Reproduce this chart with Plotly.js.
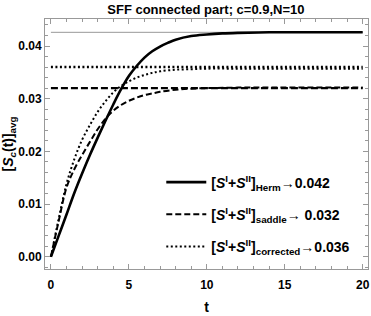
<!DOCTYPE html>
<html><head><meta charset="utf-8">
<script src="https://cdn.plot.ly/plotly-3.0.1.min.js"></script>
<style>body{margin:0;padding:0;background:#fff}#g{width:371px;height:316px}</style>
</head><body><div id="g"></div>
<script>
var tHerm = [0,0.5,1,1.5,2,2.5,3,3.5,4,4.5,5,5.5,6,6.5,7,7.5,8,9,10,11,12,14,16,18,20];
var sHerm = [0,0.0040,0.0080,0.0121,0.0158,0.0193,0.0226,0.0258,0.0289,0.0318,0.0343,0.0362,0.0378,0.0390,0.0399,0.0406,0.0412,0.0419,0.0422,0.0424,0.0425,0.0426,0.0426,0.0426,0.0426];
var tSad = [0,0.5,1,1.5,2,2.5,3,3.5,4,4.5,5,5.5,6,6.5,7,8,9,10,12,14,16,18,20];
var sSad = [0,0.0068,0.0131,0.0166,0.0193,0.0218,0.0242,0.0262,0.0277,0.0288,0.0296,0.0302,0.0307,0.0310,0.0313,0.0317,0.0319,0.0320,0.0321,0.0321,0.0321,0.0321,0.0321];
var tCor = [0,0.5,1,1.5,2,2.5,3,3.5,4,4.5,5,5.5,6,6.5,7,8,9,10,12,14,16,18,20];
var sCor = [0,0.0072,0.0138,0.0185,0.0222,0.0250,0.0275,0.0295,0.0312,0.0324,0.0333,0.0340,0.0345,0.0349,0.0352,0.0355,0.0356,0.0357,0.0357,0.0357,0.0357,0.0357,0.0357];
var tLim = [0,20];
var limHerm = 0.0426, limSad = 0.032, limCor = 0.036;
var names = ['[<i>S</i><sup>I</sup>+<i>S</i><sup>II</sup>]<sub>Herm</sub>→0.042',
             '[<i>S</i><sup>I</sup>+<i>S</i><sup>II</sup>]<sub>saddle</sub>→ 0.032',
             '[<i>S</i><sup>I</sup>+<i>S</i><sup>II</sup>]<sub>corrected</sub>→0.036'];
var F = 'Liberation Sans Narrow, Arial Narrow, Liberation Sans, Arial, sans-serif';

var traces = [
 {x:tLim, y:[limHerm,limHerm], mode:'lines', line:{color:'#999',width:1}, showlegend:false, hoverinfo:'skip'},
 {x:tLim, y:[limCor,limCor], mode:'lines', line:{color:'#000',width:2.5,dash:'2px,2.5px'}, showlegend:false, hoverinfo:'skip'},
 {x:tLim, y:[limSad,limSad], mode:'lines', line:{color:'#000',width:2.2,dash:'7px,3px'}, showlegend:false, hoverinfo:'skip'},
 {x:tHerm, y:sHerm, mode:'lines', name:names[0], legendgroup:'a', line:{color:'#000',width:2.6,shape:'spline'}},
 {x:tSad, y:sSad, mode:'lines', name:names[1], legendgroup:'b', line:{color:'#000',width:2,dash:'6px,3px',shape:'spline'}},
 {x:tCor, y:sCor, mode:'lines', name:names[2], legendgroup:'c', line:{color:'#000',width:2,dash:'2px,2.5px',shape:'spline'}}
];
var ax = {showline:true, mirror:'allticks', linecolor:'#999', linewidth:1, ticks:'inside', ticklen:5, tickcolor:'#999',
  showgrid:false, zeroline:false, tickfont:{family:F,size:12,color:'#000',weight:'bold'}};
var layout = {
  width:371, height:316, margin:{l:45,r:3,t:19,b:47},
  paper_bgcolor:'#fff', plot_bgcolor:'#fff',
  font:{family:F,color:'#000'},
  title:{text:'SFF connected part; c=0.9,N=10', font:{family:F,size:13,weight:'bold',color:'#000'}, x:0.555, xanchor:'center', y:0.985, yanchor:'top'},
  xaxis:Object.assign({}, ax, {range:[-0.38,20.34], tickmode:'linear', tick0:0, dtick:5, ticklabelstandoff:5,
    minor:{dtick:1, ticks:'inside', ticklen:3, tickcolor:'#999'},
    title:{text:'t', font:{family:F,size:14,weight:'bold',color:'#000'}, standoff:10}}),
  yaxis:Object.assign({}, ax, {range:[-0.00234,0.04513], tickmode:'linear', tick0:0, dtick:0.01, tickformat:'.2f',
    minor:{dtick:0.002, ticks:'inside', ticklen:3, tickcolor:'#999'},
    title:{text:'[<i>S</i><sub><i>c</i></sub>(t)]<sub>avg</sub>', font:{family:F,size:14,weight:'bold',color:'#000'}, standoff:6}}),
  legend:{x:0.36, y:0.41, xanchor:'left', yanchor:'top', bgcolor:'rgba(0,0,0,0)', borderwidth:0, itemwidth:40,
    font:{family:F,size:14,weight:'bold',color:'#000'}, tracegroupgap:11, traceorder:'grouped'},
  showlegend:true
};
Plotly.newPlot('g', traces, layout, {staticPlot:true, displayModeBar:false});
</script></body></html>
